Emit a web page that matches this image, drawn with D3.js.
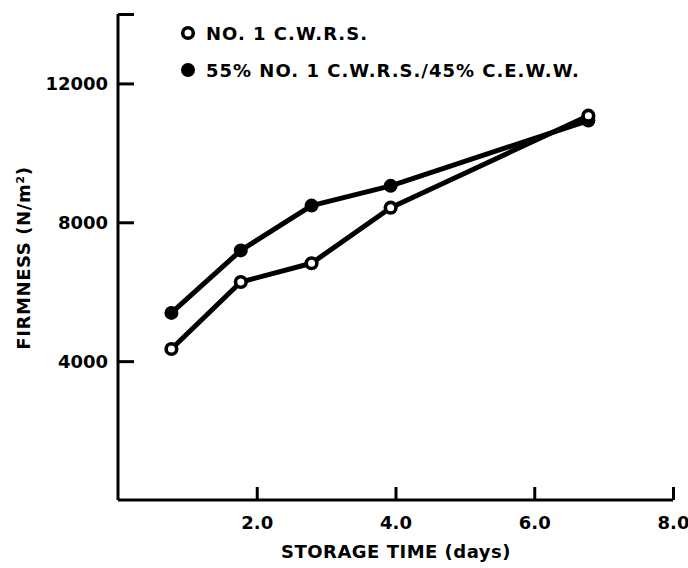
<!DOCTYPE html>
<html>
<head>
<meta charset="utf-8">
<script src="https://cdn.jsdelivr.net/npm/d3@7"></script>
<style>
  body { margin: 0; background: #fff; }
  text { font-family: "DejaVu Sans", sans-serif; font-weight: bold; fill: #000; }
</style>
</head>
<body>
<div id="chart"></div>
<script>
// storage time (days) for both series
const days = [0.77, 1.77, 2.79, 3.93, 6.78];
// firmness (N/m2)
const cwrs = [4350, 6280, 6820, 8420, 11070];
const blend = [5390, 7190, 8480, 9050, 10930];
const xTicks = [2, 4, 6, 8];
const yTicks = [4000, 8000, 12000, 14000];
const seriesNames = ["NO. 1 C.W.R.S.", "55% NO. 1 C.W.R.S./45% C.E.W.W."];

const width = 688, height = 568;

const svg = d3.select("#chart")
    .append("svg")
        .attr("width", width)
        .attr("height", height);

const x = d3.scaleLinear()
    .domain([0, 8])
    .range([118, 673]);

const y = d3.scaleLinear()
    .domain([0, 14000])
    .range([500, 14]);

// axes
const xAxis = svg.append("g")
    .attr("transform", "translate(0," + y(0) + ")")
    .call(d3.axisBottom(x).tickValues(xTicks).tickSize(-13).tickPadding(16).tickFormat(d3.format(".1f")));

const yAxis = svg.append("g")
    .attr("transform", "translate(" + x(0) + ",0)")
    .call(d3.axisLeft(y).tickValues(yTicks).tickSize(-16).tickPadding(10)
        .tickFormat(d => d === 14000 ? "" : d));

[xAxis, yAxis].forEach(a => {
    a.select(".domain").attr("stroke", "#000").attr("stroke-width", 3);
    a.selectAll(".tick line").attr("stroke", "#000").attr("stroke-width", 3);
    a.selectAll(".tick text")
        .style("font-family", "DejaVu Sans")
        .style("font-weight", "bold")
        .style("font-size", "18px")
        .attr("fill", "#000");
});
// plain axis lines, no outer ends
xAxis.select(".domain").attr("d", "M" + x.range()[0] + ",0H" + x.range()[1]);
yAxis.select(".domain").attr("d", "M0," + y.range()[0] + "V" + y.range()[1]);
yAxis.selectAll(".tick text").attr("dy", "0.36em");

// axis titles
svg.append("text")
    .attr("x", 396)
    .attr("y", 558)
    .attr("text-anchor", "middle")
    .style("font-size", "18px")
    .style("letter-spacing", "0.5px")
    .text("STORAGE TIME (days)");

svg.append("text")
    .attr("transform", "translate(30,258) rotate(-90)")
    .attr("text-anchor", "middle")
    .style("font-size", "18px")
    .style("letter-spacing", "0.6px")
    .text("FIRMNESS (N/m²)");

// lines and markers
const line = d3.line()
    .x(d => x(d[0]))
    .y(d => y(d[1]));

const series = [
    {name: seriesNames[1], values: days.map((d, i) => [d, blend[i]]), filled: true},
    {name: seriesNames[0], values: days.map((d, i) => [d, cwrs[i]]), filled: false}
];

series.forEach(s => {
    svg.append("path")
        .datum(s.values)
        .attr("d", line)
        .attr("fill", "none")
        .attr("stroke", "#000")
        .attr("stroke-width", 5)
        .attr("stroke-linejoin", "round");
});

series.forEach(s => {
    svg.selectAll(null)
        .data(s.values)
        .join("circle")
            .attr("cx", d => x(d[0]))
            .attr("cy", d => y(d[1]))
            .attr("r", s.filled ? 7 : 5.3)
            .attr("fill", s.filled ? "#000" : "#fff")
            .attr("stroke", "#000")
            .attr("stroke-width", s.filled ? 0 : 3.6);
});

// legend
const legend = svg.append("g");
[{name: seriesNames[0], filled: false, cy: 33}, {name: seriesNames[1], filled: true, cy: 70}].forEach(l => {
    legend.append("circle")
        .attr("cx", 188)
        .attr("cy", l.cy)
        .attr("r", l.filled ? 7 : 5.3)
        .attr("fill", l.filled ? "#000" : "#fff")
        .attr("stroke", "#000")
        .attr("stroke-width", l.filled ? 0 : 3.6);
    legend.append("text")
        .attr("x", 206)
        .attr("y", l.cy + 7)
        .style("font-size", "18px")
        .style("letter-spacing", "1px")
        .text(l.name);
});
</script>
</body>
</html>
